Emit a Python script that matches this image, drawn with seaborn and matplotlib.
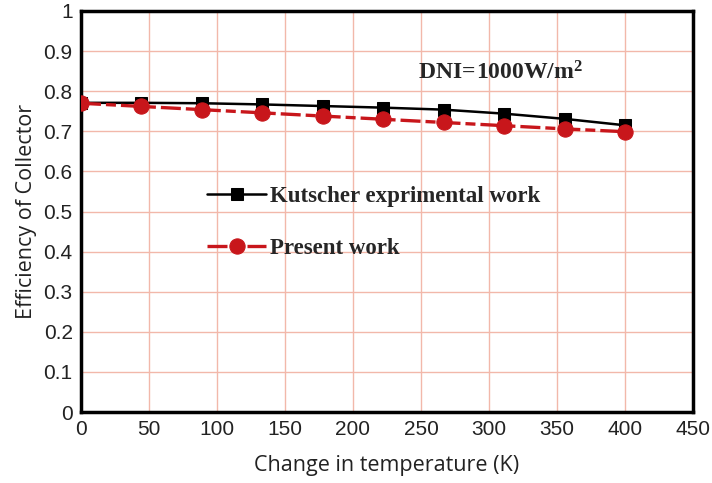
import matplotlib
matplotlib.use("Agg")
import matplotlib.pyplot as plt
import seaborn as sns
import pandas as pd

temps = [0, 44.4, 88.9, 133.3, 177.8, 222.2, 266.7, 311.1, 355.6, 400]
kutscher = [0.771, 0.771, 0.770, 0.767, 0.763, 0.759, 0.754, 0.744, 0.731, 0.715]
present = [0.770, 0.762, 0.754, 0.746, 0.738, 0.730, 0.722, 0.714, 0.706, 0.699]
xticks = [0, 50, 100, 150, 200, 250, 300, 350, 400, 450]
yticks = [0, 0.1, 0.2, 0.3, 0.4, 0.5, 0.6, 0.7, 0.8, 0.9, 1.0]
ytick_labels = ["0", "0.1", "0.2", "0.3", "0.4", "0.5", "0.6", "0.7", "0.8", "0.9", "1"]

sns.set_style("white")
plt.rcParams['font.family'] = ['Liberation Sans', 'DejaVu Sans']
plt.rcParams['mathtext.fontset'] = 'custom'
plt.rcParams['mathtext.rm'] = 'Liberation Serif:bold'
plt.rcParams['mathtext.bf'] = 'Liberation Serif:bold'
plt.rcParams['mathtext.it'] = 'Liberation Serif:bold'

df_k = pd.DataFrame({"T": temps, "eff": kutscher})
df_p = pd.DataFrame({"T": temps, "eff": present})

fig = plt.figure(figsize=(7.12, 4.83), dpi=100)
ax = fig.add_axes([81/712, 71/483, 612/712, 401/483])

grid_c = "#f2b8aa"
for x in xticks:
    ax.axvline(x, color=grid_c, lw=1.0, zorder=0)
for y in yticks:
    ax.axhline(y, color=grid_c, lw=1.0, zorder=0)

sns.lineplot(data=df_k, x="T", y="eff", ax=ax, color="black", lw=1.8,
             marker="s", markersize=8, markeredgecolor="black",
             label="Kutscher exprimental work", zorder=3)
sns.lineplot(data=df_p, x="T", y="eff", ax=ax, color="#c8161b", lw=2.4,
             linestyle=(0, (6, 1.5, 3, 1.5)), marker="o", markersize=11,
             markeredgecolor="#c8161b", label="Present work", zorder=4)

ax.set_xlim(0, 450)
ax.set_ylim(0, 1)
ax.set_xticks(xticks)
ax.set_yticks(yticks)
ax.set_yticklabels(ytick_labels)
ax.tick_params(axis="both", labelsize=15, length=0, pad=6, colors="#222222")

for s in ax.spines.values():
    s.set_visible(True)
    s.set_color("black")
    s.set_linewidth(2.5)

ax.set_xlabel("Change in temperature (K)", fontsize=15.5, family="Open Sans",
              color="#222222", labelpad=11)
ax.set_ylabel("Efficiency of Collector", fontsize=15.5, family="Open Sans",
              color="#222222", labelpad=5)

leg = ax.legend(loc="upper left", bbox_to_anchor=(0.172, 0.615), frameon=False,
                prop={"family": "Liberation Serif", "weight": "bold", "size": 16.5},
                handlelength=2.6, handletextpad=0.15, labelspacing=1.35)

ax.text(0.551, 0.845, r"$\mathrm{DNI\!=\!1000W/m^{2}}$", transform=ax.transAxes,
        fontsize=17, ha="left", va="center")

fig.savefig("out.png", dpi=100)
